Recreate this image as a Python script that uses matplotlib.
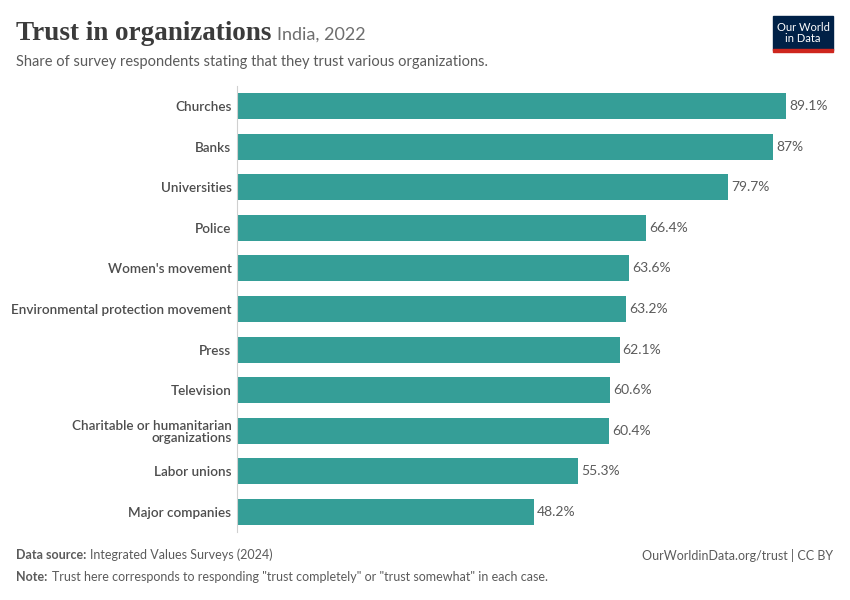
import matplotlib.pyplot as plt
from matplotlib.patches import Rectangle

organizations = ["Churches", "Banks", "Universities", "Police", "Women's movement",
                 "Environmental protection movement", "Press", "Television",
                 "Charitable or humanitarian\norganizations", "Labor unions", "Major companies"]
trust_share = [89.1, 87, 79.7, 66.4, 63.6, 63.2, 62.1, 60.6, 60.4, 55.3, 48.2]
value_labels = ["89.1%", "87%", "79.7%", "66.4%", "63.6%", "63.2%", "62.1%",
                "60.6%", "60.4%", "55.3%", "48.2%"]

plt.rcParams['font.family'] = ['Lato', 'DejaVu Sans']

fig = plt.figure(figsize=(8.5, 6), dpi=100)
ax = fig.add_axes([237 / 850, 1 - 532 / 600, (830 - 237) / 850, (532 - 86) / 600])

pos = list(range(len(organizations)))
ax.barh(pos, trust_share, height=0.64, color="#359e97")
for y, v, lab in zip(pos, trust_share, value_labels):
    ax.text(v + 0.5, y, lab, va="center", ha="left", fontsize=10, color="#5b5b5b")

ax.set_ylim(len(organizations) - 0.5, -0.5)
ax.set_xlim(0, (830 - 237) / 6.16)
ax.set_yticks(pos)
ax.set_yticklabels(organizations, fontsize=9.7, color="#4d4d4d", fontweight="semibold",
                   linespacing=1.0, multialignment="right")
ax.tick_params(axis="y", length=0, pad=4)
ax.set_xticks([])
for s in ["top", "right", "bottom"]:
    ax.spines[s].set_visible(False)
ax.spines["left"].set_color("#d0d0d0")
ax.spines["left"].set_linewidth(0.8)

# header
title = fig.text(16 / 850, 1 - 33 / 600, "Trust in organizations", fontsize=19.5,
                 color="#3b3b3b", fontweight="bold",
                 family=["Liberation Serif", "DejaVu Serif"], va="center", ha="left")
fig.canvas.draw()
bb = title.get_window_extent(fig.canvas.get_renderer())
fig.text(bb.x1 / 850 + 6 / 850, 1 - 35 / 600, "India, 2022", fontsize=13, color="#6e6e6e",
         va="center", ha="left")
fig.text(16 / 850, 1 - 62 / 600,
         "Share of survey respondents stating that they trust various organizations.",
         fontsize=10.5, color="#5b5b5b", va="center", ha="left")

# logo
fig.patches.append(Rectangle((773 / 850, 1 - 50 / 600), 60 / 850, 34 / 600,
                             transform=fig.transFigure, color="#002147"))
fig.patches.append(Rectangle((773 / 850, 1 - 52 / 600), 60 / 850, 3 / 600,
                             transform=fig.transFigure, color="#ce261e"))
fig.text(803 / 850, 1 - 33 / 600, "Our World\nin Data", fontsize=8, color="white",
         ha="center", va="center", linespacing=1.0)

# footer
fig.text(16 / 850, 1 - 555 / 600, "Data source:", fontsize=9, color="#5b5b5b",
         fontweight="bold", va="center", ha="left")
fig.text(90 / 850, 1 - 555 / 600, "Integrated Values Surveys (2024)", fontsize=9,
         color="#5b5b5b", va="center", ha="left")
fig.text(833 / 850, 1 - 555 / 600, "OurWorldinData.org/trust | CC BY", fontsize=9,
         color="#5b5b5b", va="center", ha="right")
fig.text(16 / 850, 1 - 577 / 600, "Note:", fontsize=9, color="#5b5b5b",
         fontweight="bold", va="center", ha="left")
fig.text(52 / 850, 1 - 577 / 600,
         "Trust here corresponds to responding \"trust completely\" or \"trust somewhat\" in each case.",
         fontsize=9, color="#5b5b5b", va="center", ha="left")

fig.savefig("out.png", dpi=100)
